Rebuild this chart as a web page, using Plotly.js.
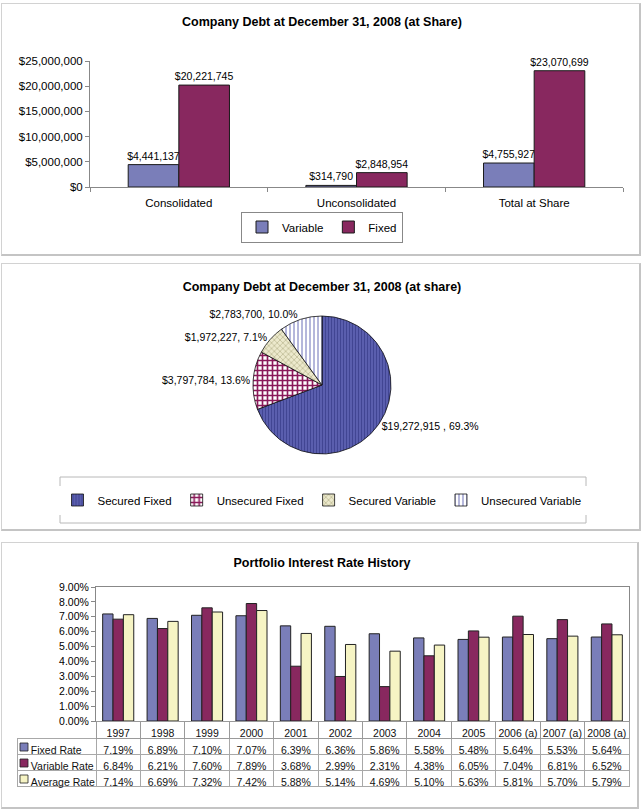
<!DOCTYPE html>
<html><head><meta charset="utf-8">
<script src="https://cdn.plot.ly/plotly-3.0.1.min.js"></script>
<style>
html,body{margin:0;padding:0;background:#fff;width:644px;height:811px;overflow:hidden;position:relative;font-family:"Liberation Sans",Arial,sans-serif;}
.plot{position:absolute;left:0;width:644px;}
.frame{position:absolute;border:1px solid #d2d2d2;border-right:2px solid #c4c4c4;border-bottom:2px solid #c4c4c4;pointer-events:none;box-sizing:border-box;}
</style></head>
<body>
<div id="p1" class="plot" style="top:0;height:258px;"></div>
<div id="p2" class="plot" style="top:258px;height:280px;"></div>
<div id="p3" class="plot" style="top:538px;height:273px;"></div>
<div class="frame" style="left:1px;top:3px;width:640px;height:253px;"></div>
<div class="frame" style="left:1px;top:263px;width:640px;height:268px;"></div>
<div class="frame" style="left:1px;top:542px;width:638px;height:267px;"></div>
<script>
// ---- Chart 1 data ----
const debtCategories = ['Consolidated', 'Unconsolidated', 'Total at Share'];
const variableDebt = [4441137, 314790, 4755927];
const fixedDebt = [20221745, 2848954, 23070699];

// ---- Chart 2 data ----
const pieLabels = ['Secured Fixed', 'Unsecured Fixed', 'Secured Variable', 'Unsecured Variable'];
const pieValues = [19272915, 3797784, 1972227, 2783700];

// ---- Chart 3 data ----
const years = ['1997','1998','1999','2000','2001','2002','2003','2004','2005','2006 (a)','2007 (a)','2008 (a)'];
const fixedRate = [0.0719,0.0689,0.0710,0.0707,0.0639,0.0636,0.0586,0.0558,0.0548,0.0564,0.0553,0.0564];
const variableRate = [0.0684,0.0621,0.0760,0.0789,0.0368,0.0299,0.0231,0.0438,0.0605,0.0704,0.0681,0.0652];
const averageRate = [0.0714,0.0669,0.0732,0.0742,0.0588,0.0514,0.0469,0.0510,0.0563,0.0581,0.0570,0.0579];
const rateNames = ['Fixed Rate', 'Variable Rate', 'Average Rate'];

const FONT = '"Liberation Sans", Arial, sans-serif';
const cfg = {staticPlot: true, displayModeBar: false};
const C_VAR = '#7A7EB9', C_FIX = '#88285F', C_AVG = '#F6F4C4';

// ---------- Chart 1 ----------
Plotly.newPlot('p1', [
  {type:'bar', name:'Variable', x:debtCategories, y:variableDebt,
   marker:{color:C_VAR, line:{color:'#1a1a1a', width:1}},
   texttemplate:'%{y:$,.0f}', textposition:'outside', cliponaxis:false, constraintext:'none',
   textfont:{size:10.5, color:'#000', family:FONT}},
  {type:'bar', name:'Fixed', x:debtCategories, y:fixedDebt,
   marker:{color:C_FIX, line:{color:'#1a1a1a', width:1}},
   texttemplate:'%{y:$,.0f}', textposition:'outside', cliponaxis:false, constraintext:'none',
   textfont:{size:10.5, color:'#000', family:FONT}}
], {
  width:644, height:258, paper_bgcolor:'#fff', plot_bgcolor:'#fff',
  margin:{l:0, r:0, t:0, b:0, autoexpand:false},
  font:{family:FONT, color:'#000'},
  title:{text:'<b>Company Debt at December 31, 2008 (at Share)</b>', font:{size:12.5, family:FONT, color:'#000'},
         x:0.5, xref:'container', y:1-22/258, yref:'container', yanchor:'middle'},
  barmode:'group', bargap:0.43, bargroupgap:0,
  xaxis:{domain:[90/644, 623/644], showline:true, linecolor:'#888', ticks:'outside', ticklen:4, tickcolor:'#888', tickson:'boundaries',
         tickfont:{size:11.5}, showgrid:false, ticklabelstandoff:5},
  yaxis:{domain:[1-187/258, 1-61/258], range:[0,25000000], dtick:5000000, tickformat:'$,.0f', showline:true, linecolor:'#888',
         ticks:'outside', ticklen:4, tickcolor:'#888', showgrid:false, zeroline:false, tickfont:{size:11.5}},
  showlegend:true,
  legend:{orientation:'h', x:0.5, xanchor:'center', xref:'container', y:1-227/258, yanchor:'middle', yref:'container',
          bordercolor:'#888', borderwidth:1, font:{size:11.5}, itemwidth:30, traceorder:'normal'}
}, cfg);

// ---------- Chart 2 ----------
Plotly.newPlot('p2', [
  {type:'pie', labels:pieLabels, values:pieValues, sort:false, direction:'clockwise', rotation:0,
   marker:{colors:['#5A5EAE','#FFFFFF','#ECE9CC','#FFFFFF'],
           line:{color:'#111', width:0.8},
           pattern:{shape:['|','+','x','|'],
                    fgcolor:['#3E4290','#8B1A5A','#A9A67C','#6A6EB8'],
                    bgcolor:['#5A5EAE','#FFFFFF','#ECE9CC','#FFFFFF'],
                    size:[3,5,4,4], solidity:[0.3,0.55,0.25,0.25]}},
   texttemplate:['%{value:$,.0f} , %{percent:.1%}','%{value:$,.0f}, %{percent:.1%}','%{value:$,.0f}, %{percent:.1%}','%{value:$,.0f}, %{percent:.1%}'],
   textposition:'outside', automargin:false,
   outsidetextfont:{size:10.5, color:'#000', family:FONT},
   domain:{x:[0.2,0.8], y:[1-196/280, 1-58/280]}, hoverinfo:'none'}
], {
  width:644, height:280, paper_bgcolor:'#fff',
  margin:{l:0, r:0, t:0, b:0, autoexpand:false},
  font:{family:FONT, color:'#000'},
  title:{text:'<b>Company Debt at December 31, 2008 (at share)</b>', font:{size:12.5, family:FONT, color:'#000'},
         x:0.5, xref:'container', y:1-29/280, yref:'container', yanchor:'middle'},
  showlegend:true,
  legend:{orientation:'h', x:322/644, xanchor:'center', xref:'container', y:1-242/280, yanchor:'middle', yref:'container',
          borderwidth:0, font:{size:11.5}, itemwidth:30},
  shapes:[{type:'rect', xref:'paper', yref:'paper', x0:60/644, x1:586/644, y0:1-265/280, y1:1-219/280,
           line:{color:'#b8b8b8', width:1}}]
}, cfg);

// ---------- Chart 3 ----------
const fmt = v => (v*100).toFixed(2) + '%';
const nb = s => s.replace(/ /g, '\u00a0');
const rowLabels = rateNames.map(n => '\u00a0\u00a0' + nb(n));
const tableCols = [rowLabels].concat(years.map((y,i) => [fmt(fixedRate[i]), fmt(variableRate[i]), fmt(averageRate[i])]));
const headerVals = [''].concat(years.map(nb));
const colW = [79].concat(years.map(() => 44.4));
const seriesColors = [C_VAR, C_FIX, C_AVG];
const H3 = 273, TOP3 = 538;
const pyv = page => 1 - (page - TOP3) / H3;
const keyShapes = seriesColors.map((c, i) => ({
  type:'rect', xref:'paper', yref:'paper',
  x0:20/644, x1:28/644, y0:pyv(743 + 16*i + 8), y1:pyv(743 + 16*i),
  fillcolor:c, line:{color:'#222', width:0.8}
}));

Plotly.newPlot('p3', [
  {type:'bar', name:rateNames[0], x:years, y:fixedRate, marker:{color:C_VAR, line:{color:'#222', width:1}}, showlegend:false, hoverinfo:'none'},
  {type:'bar', name:rateNames[1], x:years, y:variableRate, marker:{color:C_FIX, line:{color:'#222', width:1}}, showlegend:false, hoverinfo:'none'},
  {type:'bar', name:rateNames[2], x:years, y:averageRate, marker:{color:C_AVG, line:{color:'#222', width:1}}, showlegend:false, hoverinfo:'none'},
  {type:'table', domain:{x:[17/644, 629/644], y:[pyv(805), pyv(721)]},
   columnwidth:colW,
   header:{values:headerVals, height:17, align:'center',
           fill:{color:['rgba(0,0,0,0)'].concat(years.map(()=>'#fff'))},
           line:{color:['rgba(0,0,0,0)'].concat(years.map(()=>'#9a9a9a')), width:1},
           font:{size:10.5, family:FONT, color:'#111'}},
   cells:{values:tableCols, height:16, align:['left'].concat(years.map(()=>'center')),
          fill:{color:'#fff'}, line:{color:'#a8a8a8', width:1},
          font:{size:[10.5].concat(years.map(()=>10.5)), family:FONT, color:'#111'}}}
], {
  width:644, height:273, paper_bgcolor:'#fff', plot_bgcolor:'#fff',
  margin:{l:0, r:0, t:0, b:0, autoexpand:false},
  font:{family:FONT, color:'#000'},
  title:{text:'<b>Portfolio Interest Rate History</b>', font:{size:12.5, family:FONT, color:'#000'},
         x:0.5, xref:'container', y:1-25/273, yref:'container', yanchor:'middle'},
  barmode:'group', bargap:0.3, bargroupgap:0,
  xaxis:{domain:[96/644, 629/644], type:'category', showticklabels:false, showline:true, mirror:true, linecolor:'#888', ticks:'', showgrid:false},
  yaxis:{domain:[pyv(721), pyv(587)], range:[0,0.09], dtick:0.01, tickformat:'.2%', showline:true, mirror:true, linecolor:'#888',
         ticks:'outside', ticklen:4, tickcolor:'#888', showgrid:false, zeroline:false, tickfont:{size:10.5}},
  showlegend:false,
  shapes:keyShapes
}, cfg);
</script>
</body></html>
